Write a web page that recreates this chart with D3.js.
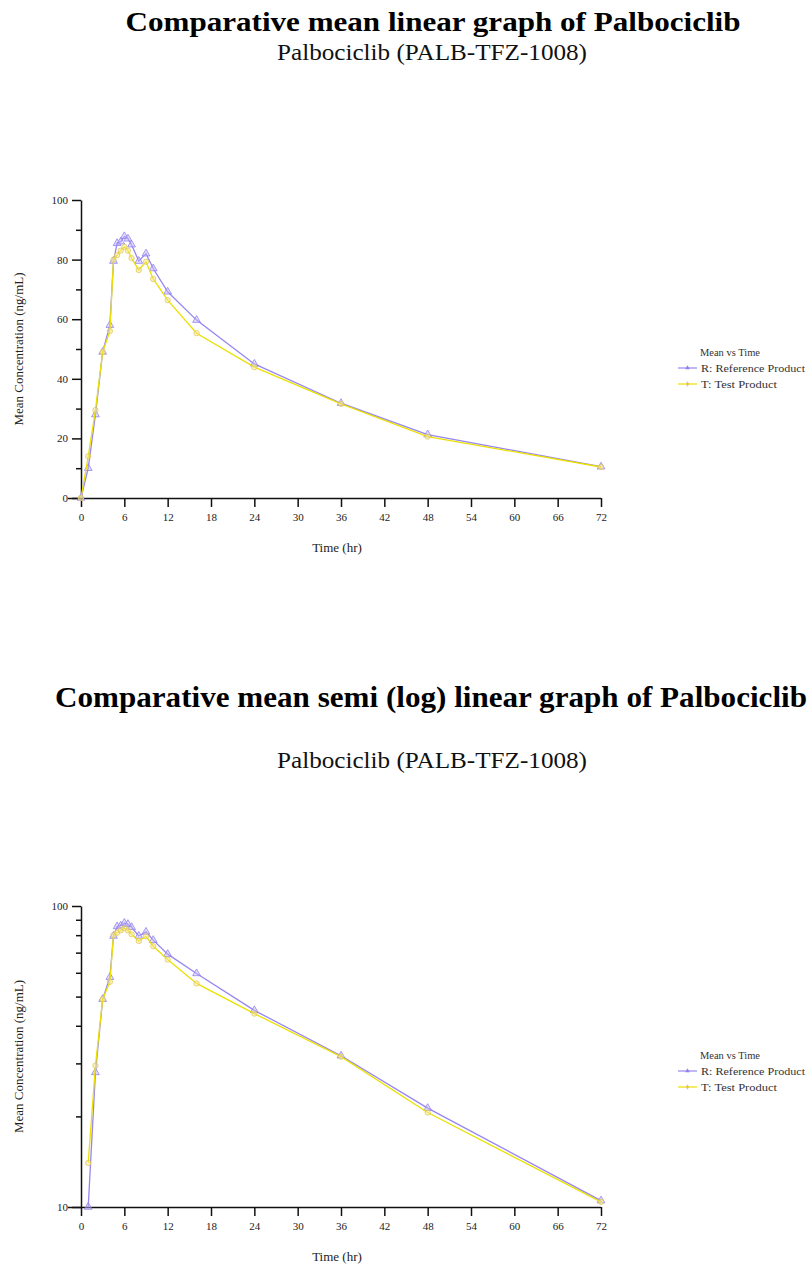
<!DOCTYPE html>
<html>
<head>
<meta charset="utf-8">
<title>Palbociclib mean concentration</title>
<script src="https://cdn.jsdelivr.net/npm/d3@7"></script>
<style>
  body { margin: 0; background: #fff; }
  svg { display: block; font-family: "Liberation Serif", "Times New Roman", serif; }
  .title { font-weight: bold; fill: #000; }
  .subtitle { font-size: 23px; fill: #111; }
  .axis path, .axis line { stroke: #111; stroke-width: 1.5; }
  .axis text { font-size: 11px; fill: #222; font-family: "Liberation Serif", serif; }
  .alabel { font-size: 13px; fill: #222; }
  .legend text { font-size: 11px; fill: #333; }
</style>
</head>
<body>
<div id="chart"></div>
<script>
// sampling times (hr)
var times = [0, 1, 2, 3, 4, 4.5, 5, 5.5, 6, 6.5, 7, 8, 9, 10, 12, 16, 24, 36, 48, 72];
// mean concentration (ng/mL)
var refConc  = [0, 10, 28, 49, 58, 79.5, 85.5, 86, 87.8, 87, 85, 79.5, 82, 77, 69.2, 59.7, 45, 31.8, 21.3, 10.5];
var testConc = [0, 14, 29.5, 49, 56, 80, 81.5, 83, 84.3, 83, 80.5, 76.5, 79.3, 73.5, 66.4, 55.3, 43.9, 31.6, 20.6, 10.4];
var xTicks = [0, 6, 12, 18, 24, 30, 36, 42, 48, 54, 60, 66, 72];
var linTicks = [0, 20, 40, 60, 80, 100];
var linMinor = [10, 30, 50, 70, 90];
var logTicks = [10, 100];
var logMinor = [20, 30, 40, 50, 60, 70, 80, 90];
var seriesNames = ["R: Reference Product", "T: Test Product"];

var W = 811, H = 1266;
var svg = d3.select("#chart").append("svg").attr("width", W).attr("height", H);

var colors = { R: "#9686f2", T: "#ece000" };
var markFill = { R: "#c5bbf8", T: "#f3e88a" };
var markStroke = { R: "#9180ef", T: "#e2c65a" };

var series = [
  { key: "R", name: seriesNames[0], vals: refConc, w: 104 },
  { key: "T", name: seriesNames[1], vals: testConc, w: 76 }
];

function drawChart(cfg) {
  var g = svg.append("g");
  var x = d3.scaleLinear().domain([0, 72]).range([81, 601]);
  var y = cfg.y;
  var y0 = y.range()[0];

  // titles (squeezed to the width they take in the original)
  g.append("text").attr("class", "title")
    .attr("x", cfg.titleX).attr("y", cfg.titleY).attr("text-anchor", "middle")
    .style("font-size", cfg.titleSize + "px")
    .attr("textLength", cfg.titleW).attr("lengthAdjust", "spacingAndGlyphs")
    .text(cfg.title);
  g.append("text").attr("class", "subtitle")
    .attr("x", 432).attr("y", cfg.subY).attr("text-anchor", "middle")
    .attr("textLength", 310).attr("lengthAdjust", "spacingAndGlyphs")
    .text("Palbociclib (PALB-TFZ-1008)");

  // axes
  g.append("g").attr("class", "axis")
    .attr("transform", "translate(0," + y0 + ")")
    .call(d3.axisBottom(x).tickValues(xTicks).tickSize(9).tickSizeOuter(0).tickPadding(6))
    .call(function(s) { s.select(".domain").attr("d", "M68,0.5H601"); });

  g.append("g").attr("class", "axis")
    .attr("transform", "translate(81,0)")
    .call(d3.axisLeft(y).tickValues(cfg.ticks).tickFormat(d3.format("d")).tickSize(9).tickSizeOuter(0).tickPadding(4));
  g.append("g").attr("class", "axis")
    .attr("transform", "translate(81,0)")
    .call(d3.axisLeft(y).tickValues(cfg.minor).tickFormat("").tickSize(5).tickSizeOuter(0))
    .call(function(s) { s.select(".domain").remove(); });

  g.append("text").attr("class", "alabel")
    .attr("x", x(36) - 4).attr("y", y0 + 54).attr("text-anchor", "middle")
    .text("Time (hr)");
  g.append("text").attr("class", "alabel")
    .attr("transform", "translate(23," + ((y.range()[0] + y.range()[1]) / 2) + ") rotate(-90)")
    .attr("text-anchor", "middle")
    .text("Mean Concentration (ng/mL)");

  // lines and markers
  series.forEach(function(s) {
    var pts = times.map(function(t, i) { return { t: t, c: s.vals[i] }; })
      .filter(function(d) { return cfg.log ? d.c > 0 : true; });
    var line = d3.line().x(function(d) { return x(d.t); }).y(function(d) { return y(d.c); });
    g.append("path").datum(pts)
      .attr("fill", "none").attr("stroke", colors[s.key]).attr("stroke-width", 1.3)
      .attr("d", line);
    var sym = s.key === "R" ? d3.symbolTriangle : d3.symbolCircle;
    g.selectAll(null).data(pts).enter().append("path")
      .attr("transform", function(d) { return "translate(" + x(d.t) + "," + y(d.c) + ")"; })
      .attr("d", d3.symbol().type(sym).size(s.key === "R" ? 26 : 22))
      .attr("fill", markFill[s.key]).attr("fill-opacity", 0.45)
      .attr("stroke", markStroke[s.key]).attr("stroke-width", 0.8);
  });

  // legend
  var lg = g.append("g").attr("class", "legend")
    .attr("transform", "translate(678," + cfg.legY + ")");
  lg.append("text").attr("x", 22).attr("y", 0)
    .attr("textLength", 60).attr("lengthAdjust", "spacingAndGlyphs")
    .text("Mean vs Time");
  series.forEach(function(s, i) {
    var yy = 16 + i * 16;
    lg.append("line").attr("x1", 0).attr("x2", 19).attr("y1", yy - 4).attr("y2", yy - 4)
      .attr("stroke", colors[s.key]).attr("stroke-width", 1.2);
    lg.append("path")
      .attr("transform", "translate(9.5," + (yy - 4) + ")")
      .attr("d", d3.symbol().type(s.key === "R" ? d3.symbolTriangle : d3.symbolDiamond).size(9))
      .attr("fill", markStroke[s.key]);
    lg.append("text").attr("x", 23).attr("y", yy)
      .attr("textLength", s.w).attr("lengthAdjust", "spacingAndGlyphs")
      .text(s.name);
  });
}

drawChart({
  title: "Comparative mean linear graph of Palbociclib",
  titleX: 433, titleY: 31, titleSize: 28, titleW: 615, subY: 60,
  y: d3.scaleLinear().domain([0, 100]).range([498, 200]),
  ticks: linTicks, minor: linMinor, log: false, legY: 356
});

drawChart({
  title: "Comparative mean semi (log) linear graph of Palbociclib",
  titleX: 431, titleY: 707, titleSize: 29, titleW: 752, subY: 768,
  y: d3.scaleLog().domain([10, 100]).range([1207, 906]),
  ticks: logTicks, minor: logMinor, log: true, legY: 1059
});
</script>
</body>
</html>
